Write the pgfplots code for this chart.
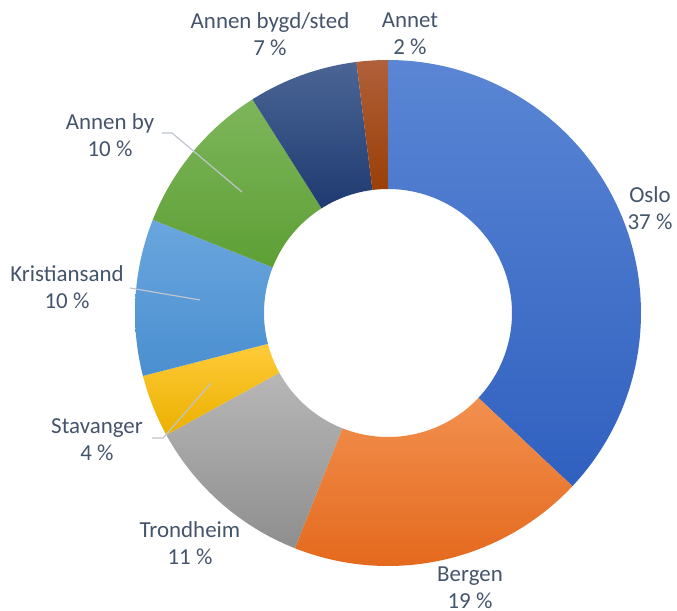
\documentclass[border=0pt]{standalone}
\usepackage{pgfplots}
\usepackage{pgfplotstable}
\pgfplotsset{compat=1.18}
\usepackage{fontspec}
\setmainfont{Carlito}

\definecolor{txt}{HTML}{44546A}
\definecolor{leader}{HTML}{BFC5CE}
\definecolor{osloT}{HTML}{5A86D4}\definecolor{osloB}{HTML}{3060C0}
\definecolor{bergT}{HTML}{F2904F}\definecolor{bergB}{HTML}{E4691D}
\definecolor{tronT}{HTML}{B7B7B7}\definecolor{tronB}{HTML}{8E8E8E}
\definecolor{stavT}{HTML}{FFCB39}\definecolor{stavB}{HTML}{EBB000}
\definecolor{kriT}{HTML}{6AA6DE}\definecolor{kriB}{HTML}{4A8FD0}
\definecolor{abyT}{HTML}{7DB65B}\definecolor{abyB}{HTML}{5E9F35}
\definecolor{abgT}{HTML}{4A6595}\definecolor{abgB}{HTML}{1F3A70}
\definecolor{annT}{HTML}{B0603A}\definecolor{annB}{HTML}{9A3F07}

% share of answers in percent, clockwise from 12 o'clock
\pgfplotstableread{
name value top bottom
Oslo 37 osloT osloB
Bergen 19 bergT bergB
Trondheim 11 tronT tronB
Stavanger 4 stavT stavB
Kristiansand 10 kriT kriB
AnnenBy 10 abyT abyB
AnnenBygd 7 abgT abgB
Annet 2 annT annB
}\donutdata

\begin{document}
\begin{tikzpicture}
\begin{axis}[
  width=677bp, height=611bp, scale only axis,
  xmin=0, xmax=677, ymin=0, ymax=611,
  hide axis, clip=false,
]
\def\cx{388}\def\cy{298}\def\rout{253}\def\rin{124}
\pgfplotstablegetrowsof{\donutdata}
\pgfmathtruncatemacro{\lastrow}{\pgfplotsretval-1}
\def\angstart{90}
\pgfplotsforeachungrouped \i in {0,...,\lastrow}{
  \pgfplotstablegetelem{\i}{value}\of{\donutdata}\let\val\pgfplotsretval
  \pgfplotstablegetelem{\i}{top}\of{\donutdata}\let\ctop\pgfplotsretval
  \pgfplotstablegetelem{\i}{bottom}\of{\donutdata}\let\cbot\pgfplotsretval
  \pgfmathsetmacro{\angend}{\angstart-3.6*\val}
  \edef\temp{\noexpand\addplot[draw=none, top color=\ctop, bottom color=\cbot,
    variable=\noexpand\t, samples at={0,...,201}]
    ({ifthenelse(\noexpand\t<=100, \cx+\rout*cos(\angstart+(\angend-\angstart)*\noexpand\t/100), \cx+\rin*cos(\angend+(\angstart-\angend)*(\noexpand\t-101)/100))},
     {ifthenelse(\noexpand\t<=100, \cy+\rout*sin(\angstart+(\angend-\angstart)*\noexpand\t/100), \cy+\rin*sin(\angend+(\angstart-\angend)*(\noexpand\t-101)/100))});}
  \temp
  \global\let\angstart\angend
}

% leader lines
\addplot[leader, line width=1.2pt] coordinates {(162,478) (172,478) (242,419)};
\addplot[leader, line width=1.2pt] coordinates {(130,323) (200,311)};
\addplot[leader, line width=1.2pt] coordinates {(152,173) (163,173) (211,228)};

\begin{scope}[every node/.style={align=center, text=txt, font=\fontsize{23}{27}\selectfont}]
\node at (axis cs:410,577) {Annet\\2 \%};
\node at (axis cs:270,577) {Annen bygd/sted\\7 \%};
\node at (axis cs:110,476) {Annen by\\10 \%};
\node at (axis cs:650,403) {Oslo\\37 \%};
\node at (axis cs:67,324) {Kristiansand\\10 \%};
\node at (axis cs:97,171) {Stavanger\\4 \%};
\node at (axis cs:190,68) {Trondheim\\11 \%};
\node at (axis cs:470,23) {Bergen\\19 \%};
\end{scope}
\end{axis}
\pgfresetboundingbox
\path (current axis.south west) rectangle (current axis.north east);
\end{tikzpicture}
\end{document}
